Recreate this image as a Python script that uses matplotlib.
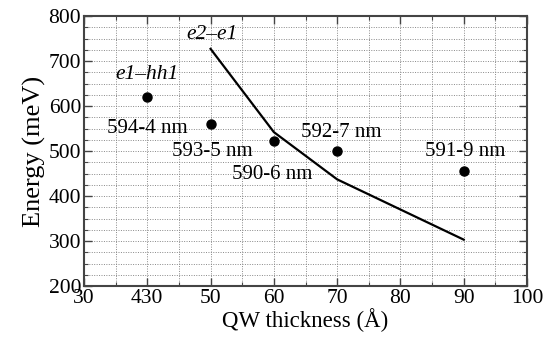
import matplotlib.pyplot as plt
from matplotlib.ticker import MultipleLocator, FixedLocator, FixedFormatter

plt.rcParams['font.family'] = ['Liberation Serif', 'DejaVu Serif']

# measured e1-hh1 transitions
thick = [40, 50, 60, 70, 90]
energy = [619, 560, 522, 500, 455]
labels = ['594-4 nm', '593-5 nm', '590-6 nm', '592-7 nm', '591-9 nm']
lab_x = [40.0, 50.2, 59.7, 70.6, 90.3]
lab_y = [551, 498, 447, 542, 500]

# calculated e2-e1
calc_x = [50, 60, 70, 90]
calc_y = [727, 542, 437, 303]

xticks = [30, 40, 50, 60, 70, 80, 90, 100]
xticklabels = ['30', '430', '50', '60', '70', '80', '90', '100']

fig = plt.figure(figsize=(5.54, 3.37), dpi=100)
ax = fig.add_axes([0.1516, 0.1513, 0.7997, 0.8012])

ax.plot(calc_x, calc_y, color='black', lw=1.6, zorder=3)
ax.plot(thick, energy, 'o', color='black', ms=6.5, zorder=4)

for t, x, y in zip(labels, lab_x, lab_y):
    ax.text(x, y, t, ha='center', va='center', fontsize=15)

ax.text(40, 669, 'e1–hh1', ha='center', va='center', fontsize=15.5, style='italic')
ax.text(50.2, 760, 'e2–e1', ha='center', va='center', fontsize=15.5, style='italic')

ax.set_xlim(30, 100)
ax.set_ylim(200, 800)
ax.xaxis.set_major_locator(FixedLocator(xticks))
ax.xaxis.set_major_formatter(FixedFormatter(xticklabels))
ax.xaxis.set_minor_locator(MultipleLocator(5))
ax.yaxis.set_major_locator(MultipleLocator(100))
ax.yaxis.set_minor_locator(MultipleLocator(25))

ax.grid(True, which='both', color='#888888', ls=(0, (1, 1.5)), lw=0.7)
ax.tick_params(which='both', direction='in', top=True, right=True, color='#444444')
ax.tick_params(which='major', length=6, width=1.0, labelsize=15.5, pad=2)
ax.tick_params(which='minor', length=3, width=0.8)
for s in ax.spines.values():
    s.set_color('#444444')
    s.set_linewidth(1.5)

ax.set_xlabel('QW thickness (Å)', fontsize=16.5, labelpad=0)
ax.set_ylabel('Energy (meV)', fontsize=19, labelpad=2)

fig.savefig('out.png', dpi=100)
